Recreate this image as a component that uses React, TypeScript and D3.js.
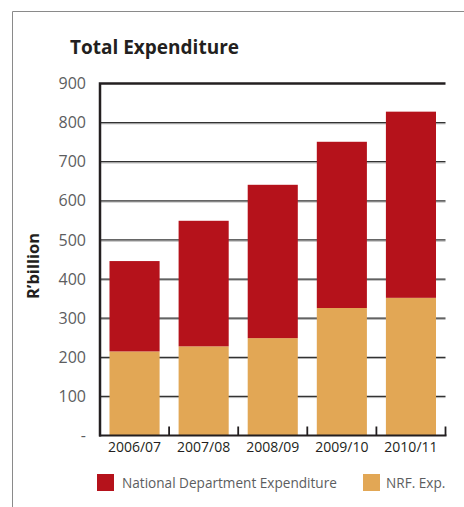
import React from "react";
import * as d3 from "d3";

const categories = ["2006/07", "2007/08", "2008/09", "2009/10", "2010/11"];
const nrfExp = [215, 228, 249, 326, 352];
const nationalDeptExp = [231, 321, 392, 425, 476];
const yTicks = [0, 100, 200, 300, 400, 500, 600, 700, 800, 900];
const seriesNames = ["National Department Expenditure", "NRF. Exp."];
const seriesColors = ["#b5121b", "#e2a755"];

const W = 464;
const H = 507;
const left = 100;
const right = 445.5;
const top = 83.5;
const bottom = 435.5;

export default function App() {
  const x = d3.scaleBand<string>().domain(categories).range([left, right]).paddingInner(0.275).paddingOuter(0.1375);
  const y = d3.scaleLinear().domain([0, 900]).range([bottom, top]);
  const rows = categories.map((c, i) => ({ cat: c, nrf: nrfExp[i], nat: nationalDeptExp[i] }));
  const stack = d3.stack<any>().keys(["nrf", "nat"])(rows);
  const bounds = d3.range(categories.length + 1).map((i) => left + (i * (right - left)) / categories.length);
  const font = "'Open Sans', sans-serif";

  return (
    <svg width={W} height={H} style={{ position: "absolute", left: 0, top: 0 }} fontFamily={font}>
      <rect x={0} y={0} width={W} height={H} fill="#fff" />
      <path d={`M12.5,${H} V11.5 H${W}`} fill="none" stroke="#8a8a8a" strokeWidth={1} />
      <text x={70} y={54} fontSize={19} fontWeight={700} fill="#231f20">
        Total Expenditure
      </text>
      <text transform={`translate(39,266) rotate(-90)`} textAnchor="middle" fontSize={16.5} fontWeight={700} fill="#231f20">
        R’billion
      </text>
      {yTicks.map((t) => (
        <text key={t} x={86} y={y(t)} dy="0.35em" textAnchor="end" fontSize={16} fill="#5c5d60">
          {t === 0 ? "-" : t}
        </text>
      ))}
      {yTicks.filter((t) => t > 0 && t < 900).map((t) => (
        <g key={t}>
          <line x1={left} x2={right} y1={y(t) + 1.2} y2={y(t) + 1.2} stroke="#b0b0b0" strokeWidth={1} />
          <line x1={left} x2={right} y1={y(t)} y2={y(t)} stroke="#333" strokeWidth={1.3} />
        </g>
      ))}
      {stack.map((s, si) => (
        <g key={si} fill={si === 0 ? seriesColors[1] : seriesColors[0]}>
          {s.map((d: any, i: number) => (
            <rect key={i} x={x(categories[i])} width={x.bandwidth()} y={y(d[1])} height={y(d[0]) - y(d[1])} />
          ))}
        </g>
      ))}
      <path d={`M${left},${bottom + 1} V${top} H${right}`} fill="none" stroke="#231f20" strokeWidth={2.5} />
      <line x1={left - 1} x2={right + 1} y1={bottom} y2={bottom} stroke="#231f20" strokeWidth={1.8} />
      {bounds.slice(1).map((b, i) => (
        <line key={i} x1={b} x2={b} y1={bottom} y2={bottom - 9} stroke="#231f20" strokeWidth={1.8} />
      ))}
      {categories.map((c) => (
        <text key={c} x={(x(c) as number) + x.bandwidth() / 2} y={452} textAnchor="middle" fontSize={14} fill="#231f20">
          {c}
        </text>
      ))}
      <rect x={97} y={474} width={17} height={17} fill={seriesColors[0]} />
      <text x={122} y={488} fontSize={13.6} fill="#5c5d60">
        {seriesNames[0]}
      </text>
      <rect x={363} y={474} width={17} height={17} fill={seriesColors[1]} />
      <text x={386} y={488} fontSize={13.6} fill="#5c5d60">
        {seriesNames[1]}
      </text>
    </svg>
  );
}
